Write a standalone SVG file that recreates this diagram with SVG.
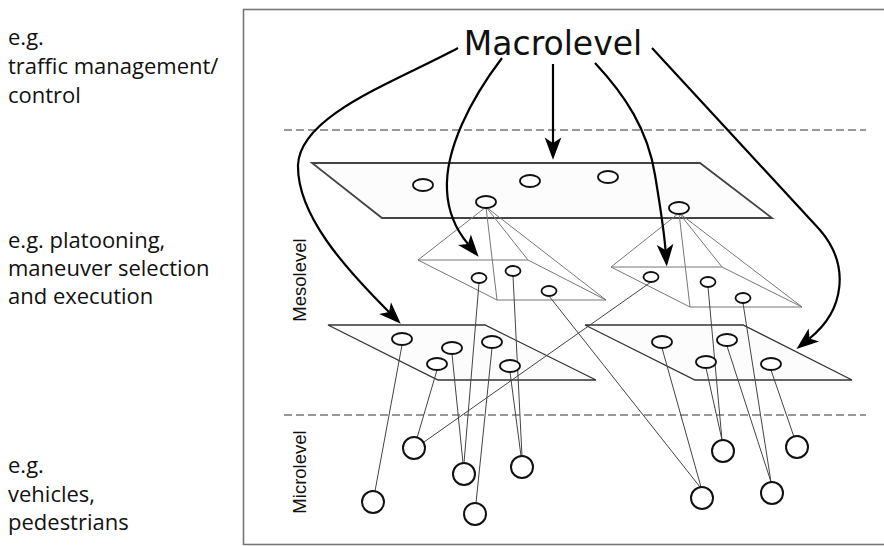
<svg xmlns="http://www.w3.org/2000/svg" width="884" height="546" viewBox="0 0 884 546">
  <style>
    .side { font-family: "Open Sans", "Noto Sans", sans-serif; font-size: 22px; fill: #111; }
    .lvl { font-family: "Liberation Sans", Arial, sans-serif; font-size: 18.5px; fill: #111; }
    .macro { font-family: "DejaVu Sans", sans-serif; font-size: 33px; fill: #111; }
    .frame { fill: none; stroke: #777; stroke-width: 1.6; }
    .dash { stroke: #777; stroke-width: 1.5; stroke-dasharray: 8 4; fill: none; }
    .plane { fill: #fcfcfc; stroke: #444; stroke-width: 1.8; stroke-linejoin: miter; }
    .lplane { fill: #fcfcfc; stroke: #333; stroke-width: 1.3; }
    .pyr { fill: none; stroke: #777; stroke-width: 1; }
    .link { stroke: #444; stroke-width: 1; fill: none; }
    .ell { fill: #fff; stroke: #111; stroke-width: 1.8; }
    .node { fill: #fff; stroke: #111; stroke-width: 2; }
    .arrow { fill: none; stroke: #000; stroke-width: 2.2; marker-end: url(#head); }
  </style>
  <defs>
    <marker id="head" markerUnits="userSpaceOnUse" markerWidth="26" markerHeight="20" viewBox="0 -9 22 18" refX="5" refY="0" orient="auto">
      <path d="M0,-7.5 L20,0 L0,7.5 L5,0 Z" fill="#000"/>
    </marker>
  </defs>

  <!-- example labels on the left -->
  <g id="label-macro">
    <text class="side" x="8" y="45">e.g.</text>
    <text class="side" x="8" y="74">traffic management/</text>
    <text class="side" x="8" y="103">control</text>
  </g>
  <g id="label-meso">
    <text class="side" x="8" y="248">e.g. platooning,</text>
    <text class="side" x="8" y="276">maneuver selection</text>
    <text class="side" x="8" y="304">and execution</text>
  </g>
  <g id="label-micro">
    <text class="side" x="8" y="473">e.g.</text>
    <text class="side" x="8" y="502">vehicles,</text>
    <text class="side" x="8" y="530">pedestrians</text>
  </g>

  <!-- frame and level separators -->
  <rect class="frame" x="243.5" y="9.5" width="700" height="535"/>
  <line class="dash" x1="284" y1="130" x2="866" y2="130"/>
  <line class="dash" x1="284" y1="415" x2="866" y2="415"/>
  <text class="lvl" transform="translate(306,280) rotate(-90)" text-anchor="middle">Mesolevel</text>
  <text class="lvl" transform="translate(306,472) rotate(-90)" text-anchor="middle">Microlevel</text>

  <!-- macro plane -->
  <g id="macro-plane">
    <polygon class="plane" points="312,163 700,163 772,218 382,218"/>
    <ellipse class="ell" cx="423" cy="185" rx="10" ry="6"/>
    <ellipse class="ell" cx="530" cy="181" rx="10" ry="6"/>
    <ellipse class="ell" cx="608" cy="177" rx="10" ry="6"/>
  </g>

  <!-- meso pyramids -->
  <g id="pyramid-left">
    <polygon class="pyr" points="418,260 528,260 606,300 497,300"/>
    <line class="pyr" x1="486" y1="207" x2="418" y2="260"/>
    <line class="pyr" x1="486" y1="207" x2="497" y2="300"/>
    <line class="pyr" x1="486" y1="207" x2="528" y2="260"/>
    <line class="pyr" x1="486" y1="207" x2="606" y2="300"/>
  </g>
  <g id="pyramid-right">
    <polygon class="pyr" points="611,267 722,267 802,307 690,307"/>
    <line class="pyr" x1="679" y1="213" x2="611" y2="267"/>
    <line class="pyr" x1="679" y1="213" x2="690" y2="307"/>
    <line class="pyr" x1="679" y1="213" x2="722" y2="267"/>
    <line class="pyr" x1="679" y1="213" x2="802" y2="307"/>
  </g>

  <!-- meso planes -->
  <g id="meso-plane-left">
    <polygon class="lplane" points="328,325 485,325 596,380 438,380"/>
  </g>
  <g id="meso-plane-right">
    <polygon class="lplane" points="585,325 743,325 852,380 695,380"/>
  </g>

  <!-- links between meso members and micro agents -->
  <g id="connectors">
    <line class="link" x1="402" y1="345" x2="375" y2="491"/>
    <line class="link" x1="437" y1="370" x2="417" y2="438"/>
    <line class="link" x1="452" y1="354" x2="463" y2="463"/>
    <line class="link" x1="492" y1="348" x2="476" y2="503"/>
    <line class="link" x1="510" y1="372" x2="521" y2="456"/>
    <line class="link" x1="479" y1="283" x2="464" y2="463"/>
    <line class="link" x1="513" y1="276" x2="522" y2="456"/>
    <line class="link" x1="549" y1="296" x2="700" y2="487"/>
    <line class="link" x1="651" y1="282" x2="424" y2="442"/>
    <line class="link" x1="708" y1="287" x2="722" y2="440"/>
    <line class="link" x1="706" y1="368" x2="722" y2="440"/>
    <line class="link" x1="743" y1="303" x2="771" y2="482"/>
    <line class="link" x1="727" y1="346" x2="771" y2="482"/>
    <line class="link" x1="662" y1="348" x2="701" y2="487"/>
    <line class="link" x1="771" y1="370" x2="794" y2="437"/>

    <!-- arrows from the macrolevel -->
    <path class="arrow" d="M458,48 C395,82 300,115 298,165 C297,215 345,268 389,312"/>
    <path class="arrow" d="M502,58 C470,100 445,150 447,190 C448,215 458,232 468,244"/>
    <path class="arrow" d="M553,64 L553,143"/>
    <path class="arrow" d="M595,63 C625,95 648,130 655,175 C660,205 664,230 665.5,250"/>
    <path class="arrow" d="M652,48 C700,100 760,165 820,230 C850,265 845,310 809.5,338.5"/>
  </g>

  <!-- meso members -->
  <g id="apex-left"><ellipse class="ell" cx="486" cy="202" rx="10" ry="6"/></g>
  <g id="apex-right"><ellipse class="ell" cx="679" cy="208" rx="10" ry="6"/></g>
  <g id="members-pyramid-left">
    <ellipse class="ell" cx="479" cy="278" rx="7.5" ry="5"/>
    <ellipse class="ell" cx="513" cy="271" rx="7.5" ry="5"/>
    <ellipse class="ell" cx="549" cy="291" rx="7.5" ry="5"/>
  </g>
  <g id="members-pyramid-right">
    <ellipse class="ell" cx="651" cy="277" rx="7.5" ry="5"/>
    <ellipse class="ell" cx="708" cy="282" rx="7.5" ry="5"/>
    <ellipse class="ell" cx="743" cy="298" rx="7.5" ry="5"/>
  </g>
  <g id="members-plane-left">
    <ellipse class="ell" cx="402" cy="339" rx="10" ry="6"/>
    <ellipse class="ell" cx="452" cy="348" rx="10" ry="6"/>
    <ellipse class="ell" cx="492" cy="342" rx="10" ry="6"/>
    <ellipse class="ell" cx="437" cy="364" rx="10" ry="6"/>
    <ellipse class="ell" cx="510" cy="366" rx="10" ry="6"/>
  </g>
  <g id="members-plane-right">
    <ellipse class="ell" cx="662" cy="342" rx="10" ry="6"/>
    <ellipse class="ell" cx="727" cy="340" rx="10" ry="6"/>
    <ellipse class="ell" cx="706" cy="362" rx="10" ry="6"/>
    <ellipse class="ell" cx="771" cy="364" rx="10" ry="6"/>
  </g>

  <!-- micro agents -->
  <g id="agent-1"><circle class="node" cx="373" cy="502" r="11"/></g>
  <g id="agent-2"><circle class="node" cx="414" cy="448" r="11"/></g>
  <g id="agent-3"><circle class="node" cx="464" cy="474" r="11"/></g>
  <g id="agent-4"><circle class="node" cx="475" cy="514" r="11"/></g>
  <g id="agent-5"><circle class="node" cx="522" cy="467" r="11"/></g>
  <g id="agent-6"><circle class="node" cx="723" cy="451" r="11"/></g>
  <g id="agent-7"><circle class="node" cx="702" cy="498" r="11"/></g>
  <g id="agent-8"><circle class="node" cx="772" cy="493" r="11"/></g>
  <g id="agent-9"><circle class="node" cx="797" cy="447" r="11"/></g>

  <text class="macro" x="553" y="55" text-anchor="middle">Macrolevel</text>
</svg>
